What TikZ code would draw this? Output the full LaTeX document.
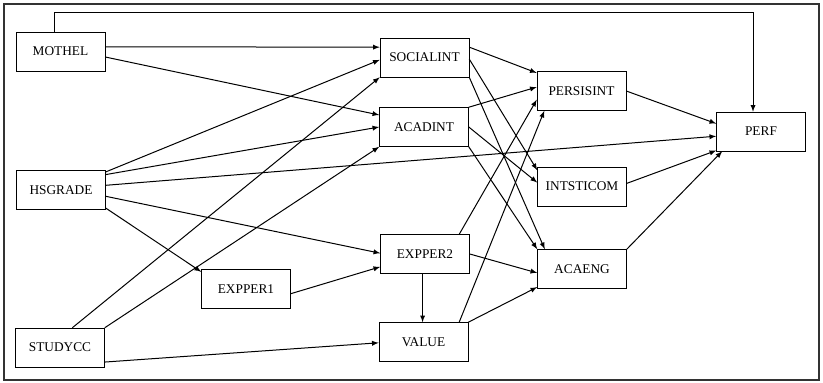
\documentclass[tikz,border=0pt]{standalone}
\usepackage{fontspec}
\setmainfont{Liberation Serif}
\tikzset{
	box/.style={draw, rectangle, minimum width=66.75pt, minimum height=29.25pt, inner sep=0pt, font=\fontsize{10}{12}\selectfont},
	arr/.style={-latex, line width=0.75pt}
}
\begin{document}
\begin{tikzpicture}[x=0.75pt, y=-0.75pt]
		\useasboundingbox (0,0) rectangle (823,382);
		\draw[black!80, line width=0.8pt] (4,4) rectangle (819,380);
		
		\node[box] (MOTHEL) at (60.5, 51.5) {MOTHEL};
		\node[box] (HSGRADE) at (61, 190) {HSGRADE};
		\node[box] (STUDYCC) at (60, 347.5) {STUDYCC};
		\node[box] (EXPPER1) at (246, 289) {EXPPER1};
		\node[box] (SOCIALINT) at (424.5, 57.5) {SOCIALINT};
		\node[box] (ACADINT) at (424, 127) {ACADINT};
		\node[box] (EXPPER2) at (425, 254) {EXPPER2};
		\node[box] (VALUE) at (423.5, 342) {VALUE};
		\node[box] (PERSISINT) at (581.5, 91) {PERSISINT};
		\node[box] (INTSTICOM) at (582, 186.5) {INTSTICOM};
		\node[box] (ACAENG) at (582, 269) {ACAENG};
		\node[box] (PERF) at (761, 131.5) {PERF};
		
		% background variables
		\draw[arr] (MOTHEL.108) -- ++(0,-19) -| (PERF.112);
		\draw[arr] (MOTHEL.6) -- (SOCIALINT.167);
		\draw[arr] (MOTHEL.-7) -- (ACADINT.165);
		\draw[arr] (HSGRADE.22) -- (SOCIALINT.183);
		\draw[arr] (HSGRADE.19) -- (ACADINT.west);
		\draw[arr] (HSGRADE.6) -- (PERF.186);
		\draw[arr] (HSGRADE.-8) -- (EXPPER2.179);
		\draw[arr] (HSGRADE.-22) -- (EXPPER1.159);
		\draw[arr] (STUDYCC.58) -- (SOCIALINT.south west);
		\draw[arr] (STUDYCC.north east) -- (ACADINT.south west);
		\draw[arr] (STUDYCC.-18) -- (VALUE.181);
		
		% expectations and value
		\draw[arr] (EXPPER1.-6) -- (EXPPER2.196);
		\draw[arr] (EXPPER2.-97) -- (EXPPER2.-97 |- VALUE.north);
		\draw[arr] (EXPPER2.east) -- (ACAENG.185);
		\draw[arr] (EXPPER2.30) -- (PERSISINT.191);
		\draw[arr] (VALUE.29) -- (PERSISINT.208);
		\draw[arr] (VALUE.north east) -- (ACAENG.202);
		
		% integration
		\draw[arr] (SOCIALINT.13) -- (PERSISINT.158);
		\draw[arr] (SOCIALINT.-2) -- (INTSTICOM.160);
		\draw[arr] (SOCIALINT.south east) -- (ACAENG.152);
		\draw[arr] (ACADINT.north east) -- (PERSISINT.175);
		\draw[arr] (ACADINT.east) -- (INTSTICOM.175);
		\draw[arr] (ACADINT.south east) -- (ACAENG.north west);
		
		% outcome
		\draw[arr] (PERSISINT.east) -- (PERF.170);
		\draw[arr] (INTSTICOM.4) -- (PERF.203);
		\draw[arr] (ACAENG.north east) -- (PERF.207);
	\end{tikzpicture}
\end{document}
